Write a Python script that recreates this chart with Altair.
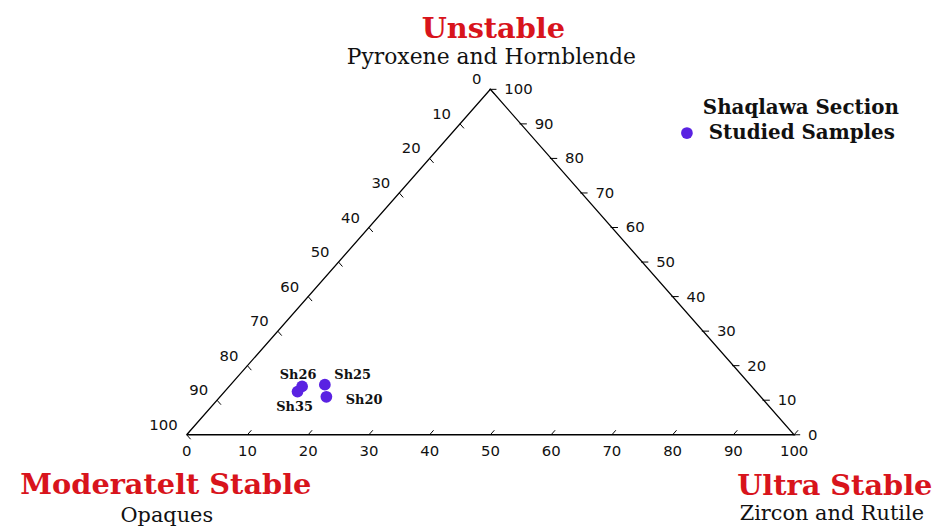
import altair as alt
import pandas as pd

# ---- data ----
samples = ["Sh26", "Sh25", "Sh35", "Sh20"]
unstable = [14.0, 14.5, 12.5, 11.0]      # Pyroxene and Hornblende %
ultra = [12.0, 15.5, 12.0, 17.5]         # Zircon and Rutile %
moderate = [74.0, 70.0, 75.5, 71.5]      # Opaques %

tick_values = [0, 10, 20, 30, 40, 50, 60, 70, 80, 90, 100]
corner_ultra = [0, 100, 0, 0]
corner_unstable = [0, 0, 100, 0]

W, H = 612, 348
SERIF = "DejaVu Serif"
SANS = "DejaVu Sans"
RED = "#d8141c"
DOT = "#5a22e2"

pts = pd.DataFrame({"sample": samples, "unstable": unstable, "ultra": ultra, "moderate": moderate})
tri = pd.DataFrame({"ultra": corner_ultra, "unstable": corner_unstable, "order": list(range(len(corner_ultra)))})
ticks = pd.DataFrame({"k": tick_values})

xs = alt.Scale(domain=[0, 100], nice=False, zero=False)
ys = alt.Scale(domain=[0, 100], nice=False, zero=False)

def X(f):
    return alt.X(f, type="quantitative", scale=xs, axis=None)

def Y(f):
    return alt.Y(f, type="quantitative", scale=ys, axis=None)

# triangle outline
outline = alt.Chart(tri).transform_calculate(
    x="datum.ultra + datum.unstable / 2", y="datum.unstable"
).mark_line(color="black", strokeWidth=1.3).encode(
    x=X("x"), y=Y("y"), order="order:Q"
)

# tick marks
base_t = alt.Chart(ticks)
tick_bottom = base_t.transform_calculate(
    x="datum.k", y="0", x2="datum.k + 0.65", y2="1.3"
).mark_rule(color="black", strokeWidth=1).encode(x=X("x"), y=Y("y"), x2="x2:Q", y2="y2:Q")
tick_right = base_t.transform_calculate(
    x="100 - datum.k / 2 - 0.2", y="datum.k", x2="100 - datum.k / 2 + 1.0", y2="datum.k"
).mark_rule(color="black", strokeWidth=1).encode(x=X("x"), y=Y("y"), x2="x2:Q", y2="y2:Q")
tick_left = base_t.transform_calculate(
    x="(100 - datum.k) / 2", y="100 - datum.k", x2="(100 - datum.k) / 2 + 0.65", y2="100 - datum.k - 1.3"
).mark_rule(color="black", strokeWidth=1).encode(x=X("x"), y=Y("y"), x2="x2:Q", y2="y2:Q")

# tick labels
lab_kw = dict(font=SANS, fontSize=15, color="#111")
lab_bottom = base_t.transform_calculate(x="datum.k", y="0", t="'' + datum.k").mark_text(
    align="center", baseline="middle", dy=16, **lab_kw
).encode(x=X("x"), y=Y("y"), text="t:N")
lab_right = base_t.transform_calculate(x="100 - datum.k / 2", y="datum.k", t="'' + datum.k").mark_text(
    align="left", baseline="middle", dx=14, **lab_kw
).encode(x=X("x"), y=Y("y"), text="t:N")
lab_left = base_t.transform_calculate(x="(100 - datum.k) / 2", y="100 - datum.k", t="'' + datum.k").mark_text(
    align="right", baseline="middle", dx=-9, dy=-10, **lab_kw
).encode(x=X("x"), y=Y("y"), text="t:N")

# sample points
pbase = alt.Chart(pts).transform_calculate(
    x="datum.ultra + datum.unstable / 2", y="datum.unstable"
)
points = pbase.mark_point(filled=True, size=140, color=DOT, opacity=1, shape="circle").encode(
    x=X("x"), y=Y("y"),
    tooltip=["sample:N", "moderate:Q", "ultra:Q", "unstable:Q"],
)

label_offsets = {"Sh26": (-4, -11), "Sh25": (28, -10), "Sh35": (-3, 16), "Sh20": (38, 3)}
sample_labels = []
for s in samples:
    ddx, ddy = label_offsets[s]
    sample_labels.append(
        pbase.transform_filter(alt.datum.sample == s).mark_text(
            font=SERIF, fontSize=13, fontWeight="bold", color="#111",
            align="center", baseline="middle", dx=ddx, dy=ddy,
        ).encode(x=X("x"), y=Y("y"), text="sample:N")
    )

# titles (corner names)
def txt(s, x, y, size, color="#111", weight="normal", align="center"):
    return alt.Chart(pd.DataFrame({"t": [s]})).mark_text(
        font=SERIF, fontSize=size, fontWeight=weight, color=color, align=align, baseline="alphabetic"
    ).encode(x=alt.value(x), y=alt.value(y), text="t:N")

titles = [
    txt("Unstable", 309, -52, 29, RED, "bold"),
    txt("Pyroxene and Hornblende", 307, -26, 22),
    txt("Moderatelt Stable", -21, 408, 29, RED, "bold"),
    txt("Opaques", -20, 436, 21),
    txt("Ultra Stable", 653, 409, 29, RED, "bold"),
    txt("Zircon and Rutile", 650, 434, 21),
    txt("Shaqlawa Section", 520, 25, 20, "#111", "bold", "left"),
    txt("Studied Samples", 526, 50, 20, "#111", "bold", "left"),
]

legend_dot = alt.Chart(pd.DataFrame({"t": ["Studied Samples"]})).mark_point(
    filled=True, size=140, color=DOT, opacity=1, shape="circle"
).encode(x=alt.value(504), y=alt.value(44))

chart = alt.layer(
    outline, tick_bottom, tick_right, tick_left,
    lab_bottom, lab_right, lab_left,
    points, *sample_labels, *titles, legend_dot,
).properties(
    width=W, height=H,
    autosize=alt.AutoSizeParams(type="none"),
    padding={"left": 180, "top": 80, "right": 150, "bottom": 92},
    background="white",
).configure_view(stroke=None)

chart.save("out.html", embed_options={"renderer": "svg", "actions": False})
